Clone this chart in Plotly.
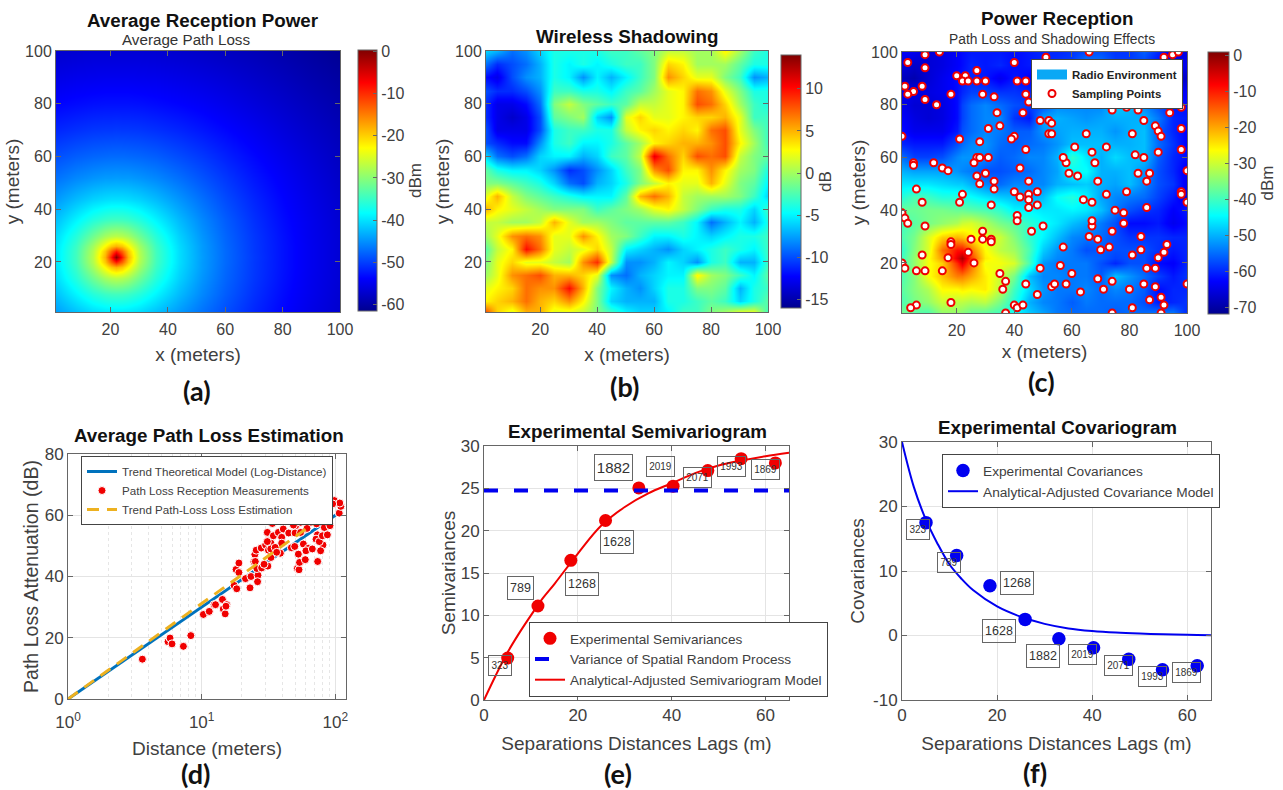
import plotly.graph_objects as go

W, H = 1283, 790

# ---------- Panel (a): average reception power, read on a coarse grid (dBm)
a_x = [1, 8, 14, 18, 20, 22, 24, 26, 30, 36, 44, 52, 60, 70, 80, 90, 100]
a_y = [1, 8, 14, 18, 20, 22, 24, 26, 30, 36, 44, 52, 60, 70, 80, 90, 100]
a_z = [
 [-44.2,-42.1,-40.5,-39.9,-39.7,-39.7,-39.7,-39.9,-40.5,-42.1,-44.5,-46.9,-49.1,-51.6,-53.7,-55.6,-57.2],
 [-42.1,-38.9,-36.2,-34.9,-34.5,-34.4,-34.5,-34.9,-36.2,-38.9,-42.5,-45.6,-48.2,-51.0,-53.3,-55.2,-57.0],
 [-40.5,-36.2,-31.6,-28.5,-27.5,-27.1,-27.5,-28.5,-31.6,-36.2,-41.1,-44.8,-47.7,-50.6,-53.0,-55.1,-56.8],
 [-39.9,-34.9,-28.5,-22.6,-19.5,-18.1,-19.5,-22.6,-28.5,-34.9,-40.5,-44.4,-47.5,-50.5,-52.9,-55.0,-56.8],
 [-39.7,-34.5,-27.5,-19.5,-13.5,-9.0,-13.5,-19.5,-27.5,-34.5,-40.3,-44.4,-47.4,-50.5,-52.9,-55.0,-56.8],
 [-39.7,-34.4,-27.1,-18.1,-9.0,0.0,-9.0,-18.1,-27.1,-34.4,-40.3,-44.3,-47.4,-50.4,-52.9,-55.0,-56.8],
 [-39.7,-34.5,-27.5,-19.5,-13.5,-9.0,-13.5,-19.5,-27.5,-34.5,-40.3,-44.4,-47.4,-50.5,-52.9,-55.0,-56.8],
 [-39.9,-34.9,-28.5,-22.6,-19.5,-18.1,-19.5,-22.6,-28.5,-34.9,-40.5,-44.4,-47.5,-50.5,-52.9,-55.0,-56.8],
 [-40.5,-36.2,-31.6,-28.5,-27.5,-27.1,-27.5,-28.5,-31.6,-36.2,-41.1,-44.8,-47.7,-50.6,-53.0,-55.1,-56.8],
 [-42.1,-38.9,-36.2,-34.9,-34.5,-34.4,-34.5,-34.9,-36.2,-38.9,-42.5,-45.6,-48.2,-51.0,-53.3,-55.2,-57.0],
 [-44.5,-42.5,-41.1,-40.5,-40.3,-40.3,-40.3,-40.5,-41.1,-42.5,-44.8,-47.1,-49.3,-51.7,-53.8,-55.6,-57.3],
 [-46.9,-45.6,-44.8,-44.4,-44.4,-44.3,-44.4,-44.4,-44.8,-45.6,-47.1,-48.8,-50.5,-52.6,-54.4,-56.1,-57.7],
 [-49.1,-48.2,-47.7,-47.5,-47.4,-47.4,-47.4,-47.5,-47.7,-48.2,-49.3,-50.5,-51.9,-53.6,-55.2,-56.7,-58.2],
 [-51.6,-51.0,-50.6,-50.5,-50.5,-50.4,-50.5,-50.5,-50.6,-51.0,-51.7,-52.6,-53.6,-54.9,-56.3,-57.6,-58.8],
 [-53.7,-53.3,-53.0,-52.9,-52.9,-52.9,-52.9,-52.9,-53.0,-53.3,-53.8,-54.4,-55.2,-56.3,-57.4,-58.5,-59.6],
 [-55.6,-55.2,-55.1,-55.0,-55.0,-55.0,-55.0,-55.0,-55.1,-55.2,-55.6,-56.1,-56.7,-57.6,-58.5,-59.5,-60.4],
 [-57.2,-57.0,-56.8,-56.8,-56.8,-56.8,-56.8,-56.8,-56.8,-57.0,-57.3,-57.7,-58.2,-58.8,-59.6,-60.4,-61.3],
]

# ---------- Panel (b): wireless shadowing, read on a 5 m grid (dB); rows run top to bottom
b_x = [1, 5, 10, 15, 20, 25, 30, 35, 40, 45, 50, 55, 60, 65, 70, 75, 80, 85, 90, 95, 100]
b_y = [100, 95, 90, 85, 80, 75, 70, 65, 60, 55, 50, 45, 40, 35, 30, 25, 20, 15, 10, 5, 1]
b_z = [
 [-6,-7,-9,-8,-6,-4,-4,-4,-4,-3,-3,-2,-1,1,1,0,0,3,0,-3,-4],
 [-9,-11,-10,-9,-7,-4,-5,-4,-5,-4,-3,-3,-1,4,3,0,0,0,-2,-4,-4],
 [-12,-13,-10,-8,-7,-4,-5,-8,-5,-7,-5,-3,-1,6,4,2,2,-1,-3,-8,-7],
 [-10,-11,-11,-10,-8,-3,-3,-4,-4,-5,-3,-2,0,2,3,7,6,2,-1,-4,-4],
 [-11,-13,-13,-12,-9,-1,1,-1,-2,-3,-2,1,1,2,3,8,7,4,0,-3,-4],
 [-11,-13,-14,-13,-10,-2,-1,0,-6,-8,2,4,2,2,3,4,4,5,2,-3,-3],
 [-10,-13,-13,-13,-10,-4,-3,-3,-4,-4,1,3,4,3,4,3,7,8,2,-1,-3],
 [-10,-11,-12,-12,-8,-4,-3,-5,-5,-4,-2,0,3,4,5,5,6,8,3,0,-3],
 [-6,-9,-10,-9,-6,-5,-5,-7,-6,-3,-2,1,11,7,4,8,7,8,1,-1,-2],
 [-2,-4,-5,-5,-6,-8,-11,-10,-8,-6,-3,-1,6,8,3,3,6,3,0,-1,-4],
 [-1,-1,-2,-3,-4,-6,-9,-10,-7,-6,-4,-1,1,3,2,2,5,2,-1,-2,-5],
 [2,5,1,-1,-2,-3,-4,-5,-5,-5,-2,5,7,5,1,0,0,0,-1,-3,-6],
 [5,3,2,1,0,-1,-1,-1,-3,-2,-1,0,2,3,1,-1,-3,-4,-4,-6,-3],
 [1,1,0,0,1,5,2,0,0,-1,-2,-2,-2,-2,-3,-5,-9,-7,-5,-7,-4],
 [0,2,6,7,6,2,2,6,3,0,-1,-3,-5,-5,-4,-5,-6,-5,-4,-4,-3],
 [-2,1,3,10,7,2,1,2,4,1,-5,-6,-7,-8,-6,-5,-4,-3,-4,-5,-3],
 [-1,2,4,2,2,1,0,6,9,1,-8,-8,-7,-5,-6,-8,-4,-3,-7,-7,-3],
 [0,2,6,7,8,5,5,4,2,-8,-9,-7,-6,-5,-5,3,0,-1,-3,-5,-2],
 [2,3,4,7,6,6,10,5,-1,-5,-7,-8,-6,-4,-4,-1,-1,-2,-7,-4,-3],
 [3,4,5,7,5,4,6,3,-1,-6,-7,-7,-7,-4,-4,-3,-2,-3,-6,-4,-2],
 [8,4,2,5,5,2,2,1,-1,-3,-5,-6,-6,-5,-3,-3,-1,0,2,2,-3],
]

# ---------- Panel (c): power reception (dBm); rows run top to bottom
c_x = [1, 5, 10, 15, 20, 22, 25, 30, 35, 40, 45, 50, 55, 60, 65, 70, 75, 80, 85, 90, 95, 100]
c_y = [100, 95, 90, 85, 80, 75, 70, 65, 60, 55, 50, 45, 40, 35, 30, 25, 22, 20, 15, 10, 5, 1]
c_z = [
 [-63,-64,-66,-65,-63,-62,-61,-61,-61,-62,-61,-60,-60,-59,-57,-57,-59,-59,-56,-60,-64,-65],
 [-65,-67,-66,-65,-63,-62,-60,-61,-60,-62,-61,-60,-59,-58,-53,-54,-58,-58,-58,-62,-64,-64],
 [-68,-69,-66,-64,-62,-61,-60,-61,-64,-61,-63,-62,-59,-57,-50,-51,-55,-55,-58,-61,-67,-67],
 [-64,-65,-65,-64,-62,-60,-58,-58,-59,-59,-60,-58,-57,-55,-53,-52,-49,-51,-55,-60,-63,-63],
 [-64,-66,-66,-65,-62,-58,-55,-53,-55,-57,-58,-57,-53,-53,-53,-53,-48,-49,-53,-57,-61,-62],
 [-63,-65,-66,-65,-62,-58,-55,-53,-53,-59,-61,-51,-50,-51,-52,-51,-50,-50,-50,-54,-60,-61],
 [-62,-64,-64,-64,-61,-57,-55,-53,-54,-56,-56,-52,-51,-50,-50,-50,-52,-50,-49,-56,-60,-63],
 [-60,-61,-61,-61,-57,-55,-53,-52,-55,-56,-55,-54,-52,-49,-49,-49,-50,-50,-49,-55,-59,-63],
 [-55,-58,-58,-57,-53,-52,-52,-53,-56,-55,-53,-53,-50,-41,-46,-50,-47,-49,-49,-56,-60,-62],
 [-50,-51,-51,-51,-52,-53,-54,-57,-57,-56,-55,-53,-51,-44,-44,-50,-50,-49,-52,-57,-60,-64],
 [-46,-46,-46,-47,-48,-48,-50,-53,-55,-53,-53,-53,-50,-49,-48,-50,-51,-49,-53,-57,-59,-64],
 [-42,-39,-40,-42,-42,-43,-44,-46,-48,-49,-51,-49,-44,-42,-45,-51,-53,-54,-55,-58,-61,-65],
 [-37,-37,-36,-36,-37,-37,-38,-39,-41,-45,-45,-46,-46,-45,-46,-49,-54,-57,-59,-60,-63,-61],
 [-40,-38,-36,-34,-32,-30,-29,-32,-36,-38,-41,-44,-46,-49,-51,-54,-57,-62,-62,-61,-64,-62],
 [-39,-36,-29,-23,-21,-22,-25,-29,-30,-35,-41,-45,-49,-53,-54,-55,-57,-59,-59,-59,-60,-60],
 [-41,-35,-29,-16,-9,-9,-16,-26,-31,-33,-39,-48,-52,-54,-57,-56,-57,-57,-57,-59,-61,-60],
 [-40,-34,-27,-19,-6,-2,-12,-25,-28,-31,-40,-50,-53,-54,-55,-56,-58,-57,-57,-61,-62,-60],
 [-40,-34,-27,-23,-11,-6,-15,-27,-27,-29,-39,-52,-54,-54,-54,-57,-60,-57,-57,-62,-63,-60],
 [-39,-35,-27,-22,-17,-17,-20,-25,-30,-36,-49,-53,-53,-54,-54,-56,-49,-52,-55,-58,-61,-59],
 [-38,-35,-32,-26,-26,-25,-26,-25,-31,-40,-47,-52,-54,-54,-53,-55,-53,-54,-56,-62,-60,-60],
 [-39,-36,-34,-30,-31,-31,-32,-31,-36,-42,-50,-53,-54,-56,-54,-55,-55,-55,-57,-61,-60,-59],
 [-36,-38,-39,-34,-34,-35,-37,-38,-40,-44,-48,-51,-54,-55,-55,-55,-56,-55,-55,-54,-54,-60],
]

samples_x = [1,3,9,14,2,9,8,5,3,9,13,18,20,23,27,22,24,27,30,29,33,40,41,44,44,45,51,34,43,35,31,49,52,53,52,53,
             40,39,21,28,44,27,28,31,26,12,5,5,15,17,27,30,33,28,42,45,6,33,22,21,8,32,1,2,3,9,40,42,45,45,45,48,48,
             41,41,50,46,29,29,25,32,32,18,18,24,8,17,26,1,2,6,9,15,35,37,36,18,6,4,37,40,41,43,44,48,49,56,60,53,54,
             58,63,69,71,74,74,80,81,85,87,89,91,92,91,100,81,84,86,89,90,92,93,84,74,73,70,69,66,67,67,57,78,78,75,86,
             67,64,72,79,69,62,59,58,57,61,67,68,72,65,74,79,83,85,89,90,91,81,82,85,90,98,83,87,86,100,98,98,100,98,94,
             98,91,66,92,95,97]
samples_y = [68,96,99,100,87,94,87,85,84,82,80,84,91,91,93,89,89,89,89,84,83,96,89,89,84,81,98,77,77,72,71,74,74,73,69,69,
             68,67,67,66,63,60,60,60,58,58,58,57,56,55,53,54,51,50,56,51,48,48,46,43,43,42,39,37,35,34,47,45,46,44,41,47,42,
             38,36,34,32,32,29,29,29,28,28,27,24,23,22,20,20,18,17,17,17,16,13,10,5,4,3,1,4,3,4,12,8,18,19,16,11,12,
             12,9,14,10,13,1,10,3,12,6,11,7,4,1,12,23,25,18,18,22,24,27,30,32,26,25,29,30,34,36,26,35,39,40,41,
             43,44,46,47,51,53,54,58,60,64,62,58,64,69,78,79,78,74,72,70,68,69,61,60,62,63,54,54,51,55,47,46,43,71,77,
             79,80,100,98,99,100]

# ---------- Panel (d)
trend_x = [1, 108]
trend_y = [0, 61]
estimate_x = [1, 84]
estimate_y = [0, 60]
meas_x = [3.6,5.6,5.8,6.0,7.3,8.3,10.3,11.4,12.4,12.7,14.3,14.5,15.4,15.0,15.2,17.5,18.3,18.1,19,19,21.3,23.4,23,25,24.6,
          26.4,26.2,25.9,25.2,28.1,25.6,27.9,30.1,31,31.3,29.3,31.6,33,33.8,34.4,32.9,31,33,35.5,37.5,39.7,40.8,38.8,36.4,
          39.7,44.8,46.9,49.7,50.5,50,52,53.5,54,52.9,52.3,55,55,57.7,59.6,62.8,60.3,61,63.9,65.3,61.4,70,67.3,73.8,72.4,
          73.5,71.7,80.9,77.6,75.9,80,86,82.8,87.2,91.2,68,81.3,92.3,98.4,107,110,108,95.5,60.6,48.6]
meas_y = [13,18.7,19.9,18,17.2,20.7,27.6,28.6,30.8,30.8,32.5,29.4,30.8,27.8,30.3,37.1,36,42.3,44.4,41.3,39.3,40,36.3,47.2,44.8,
          40.4,38.3,42.6,44.9,42.8,48.6,49.3,50.3,54.4,43.4,44,48.6,50.9,57.3,53.3,49,51.4,46.2,49.5,54.4,52.8,55.5,47.6,47.9,
          50.9,54.2,49.4,49.8,56.6,54.2,42.6,42.2,44.6,47.3,59.6,57.7,54.4,50.6,45.5,49.2,48.4,59.9,59.3,57.7,55.7,60.7,49,44.9,57.2,
          53.6,52.2,50.3,48.4,51.4,53.3,58.8,56,53.6,56.6,59.9,60.5,63.2,64.8,60.7,62.9,64,63.7,60.6,56.8]
log_minor_ticks = [2,3,4,5,6,7,8,9,20,30,40,50,60,70,80,90]

# ---------- Panels (e) and (f)
lags = [5.05, 11.5, 18.5, 25.9, 33, 40.3, 47.7, 54.8, 62.1]
semivar = [4.95, 11.1, 16.5, 21.2, 25.05, 25.25, 27.1, 28.5, 28.0]
covar = [17.5, 12.4, 7.7, 2.5, -0.5, -1.9, -3.7, -5.3, -4.7]
variance_x = [0, 65]
variance_y = [24.75, 24.75]
model_h = [0,2.5,5,7.5,10,12.5,15,20,25,30,35,40,45,50,55,60,65]
semi_model = [0,2.9,5.6,7.9,10,12,13.7,17.3,20.6,22.8,24.4,25.6,26.8,27.7,28.3,28.8,29.2]
cov_model = [30,23,18,14.2,11,8.8,7,4.5,2.9,1.8,1.1,0.7,0.45,0.3,0.2,0.1,0.05]
pair_labels = ["323","789","1268","1628","1882","2019","2071","1993","1869"]
e_label_x = [3.4,7.74,20.95,28.4,27.6,37.6,45.5,52.7,59.9]
e_label_y = [4.08,13.27,13.74,18.7,27.45,27.56,26.27,27.6,27.2]
e_label_font = [10,12.5,12.5,12.5,15,10,10,10,10]
e_label_w = [22,25,32,32,37,27,27,27,27]
e_label_h = [19,22,22,22,25,19,19,19,19]
f_label_x = [3.36,9.8,24.2,20.3,29.7,38.05,45.5,52.7,59.8]
f_label_y = [16.4,11.28,8.13,0.67,-3.16,-2.9,-4.66,-6.37,-5.75]
f_label_font = [10,10,12.5,12.5,12.5,10,10,10,10]
f_label_w = [22,22,32,32,32,27,27,27,27]
f_label_h = [19,19,22,22,22,19,19,19,19]

FONT = "Liberation Sans"
TXT = "#404040"
FRAME = "#666666"
GRID = "#e4e4e4"
JET = [[0,"rgb(0,0,143)"],[0.125,"rgb(0,0,255)"],[0.375,"rgb(0,255,255)"],
       [0.625,"rgb(255,255,0)"],[0.875,"rgb(255,0,0)"],[1,"rgb(128,0,0)"]]

def px(x0, x1):
    return [x0 / W, x1 / W]
def py(top, bottom):
    return [1 - bottom / H, 1 - top / H]

def cbar(left, right, top, bottom, title, vals):
    return dict(x=left / W, xanchor="left", xpad=0, y=1 - top / H, yanchor="top", ypad=0,
                len=(bottom - top) / H, lenmode="fraction", thickness=right - left, thicknessmode="pixels",
                outlinecolor=FRAME, outlinewidth=1, ticks="inside", ticklen=4, tickcolor=FRAME,
                tickmode="array", tickvals=vals, ticktext=[str(v) for v in vals],
                tickfont=dict(size=16, color=TXT, family=FONT),
                title=dict(text=title, side="right", font=dict(size=17, color=TXT, family=FONT)))

fig = go.Figure()
fig.add_trace(go.Heatmap(x=a_x, y=a_y, z=a_z, colorscale=JET, zmin=-61.6, zmax=0.4, zsmooth="best", xaxis="x", yaxis="y",
                         colorbar=cbar(358, 377, 50, 311, "dBm", [0,-10,-20,-30,-40,-50,-60])))
fig.add_trace(go.Heatmap(x=b_x, y=b_y[::-1], z=b_z[::-1], colorscale=JET, zmin=-16, zmax=14, zsmooth="best", xaxis="x2", yaxis="y2",
                         colorbar=cbar(781, 801, 55, 308, "dB", [10,5,0,-5,-10,-15])))
fig.add_trace(go.Heatmap(x=c_x, y=c_y[::-1], z=c_z[::-1], colorscale=JET, zmin=-71.7, zmax=1, zsmooth="best", xaxis="x3", yaxis="y3",
                         colorbar=cbar(1208, 1229, 52, 314, "dBm", [0,-10,-20,-30,-40,-50,-60,-70])))
fig.add_trace(go.Scatter(x=[None, None], y=[None, None], mode="lines", line=dict(color="#0aa8f5", width=14),
                         name="Radio Environment", showlegend=True, legend="legend4", xaxis="x3", yaxis="y3"))
fig.add_trace(go.Scatter(x=samples_x, y=samples_y, mode="markers", name="Sampling Points", legend="legend4",
                         marker=dict(size=7, color="white", line=dict(color="#ee0000", width=2)), xaxis="x3", yaxis="y3"))
# (d)
fig.add_trace(go.Scatter(x=trend_x, y=trend_y, mode="lines", name="Trend Theoretical Model (Log-Distance)",
                         line=dict(color="#0072BD", width=3), legend="legend", xaxis="x4", yaxis="y4"))
fig.add_trace(go.Scatter(x=meas_x, y=meas_y, mode="markers", name="Path Loss Reception Measurements",
                         marker=dict(size=8, color="#f00000", line=dict(color="white", width=1)), legend="legend", xaxis="x4", yaxis="y4"))
fig.add_trace(go.Scatter(x=estimate_x, y=estimate_y, mode="lines", name="Trend Path-Loss Loss Estimation",
                         line=dict(color="#EDB120", width=3, dash="12px,8px"), legend="legend", xaxis="x4", yaxis="y4"))
# (e)
fig.add_trace(go.Scatter(x=lags, y=semivar, mode="markers", name="Experimental Semivariances",
                         marker=dict(size=13, color="#f00000"), legend="legend2", xaxis="x5", yaxis="y5"))
fig.add_trace(go.Scatter(x=variance_x, y=variance_y, mode="lines", name="Variance of Spatial Random Process",
                         line=dict(color="#0000f0", width=4, dash="14px,16px"), legend="legend2", xaxis="x5", yaxis="y5"))
fig.add_trace(go.Scatter(x=model_h, y=semi_model, mode="lines", line_shape="spline", name="Analytical-Adjusted Semivariogram Model",
                         line=dict(color="#f00000", width=2), legend="legend2", xaxis="x5", yaxis="y5"))
# (f)
fig.add_trace(go.Scatter(x=lags, y=covar, mode="markers", name="Experimental Covariances",
                         marker=dict(size=13.5, color="#0000f0"), legend="legend3", xaxis="x6", yaxis="y6"))
fig.add_trace(go.Scatter(x=model_h, y=cov_model, mode="lines", line_shape="spline", name="Analytical-Adjusted Covariance Model",
                         line=dict(color="#0000f0", width=2), legend="legend3", xaxis="x6", yaxis="y6"))

def axis(dom, title, rng, vals, standoff, grid=False, **kw):
    d = dict(domain=dom, range=rng, tickmode="array", tickvals=vals, ticktext=kw.pop("ticktext", [str(v) for v in vals]),
             showline=True, linecolor=FRAME, linewidth=1, mirror="allticks",
             ticks="inside", ticklen=5, tickcolor=FRAME, showgrid=grid, gridcolor=GRID, zeroline=False,
             tickfont=dict(size=kw.pop("tsize", 16), color=TXT, family=FONT), automargin=False,
             title=dict(text=title, standoff=standoff, font=dict(size=kw.pop("fsize", 19), color=TXT, family=FONT)))
    d.update(kw)
    return d

t100 = [20, 40, 60, 80, 100]
layout = dict(
    width=W, height=H, autosize=False, margin=dict(l=0, r=0, t=0, b=0), paper_bgcolor="white", plot_bgcolor="white",
    font=dict(family=FONT, color=TXT),
    xaxis=axis(px(56, 340), "x (meters)", [1, 100], t100, 10, anchor="y", ticklabelstandoff=3),
    yaxis=axis(py(51, 312), "y (meters)", [1, 100], t100, 0, anchor="x"),
    xaxis2=axis(px(486, 768), "x (meters)", [1, 100], t100, 10, anchor="y2", ticklabelstandoff=3),
    yaxis2=axis(py(51, 312), "y (meters)", [1, 100], t100, 0, anchor="x2"),
    xaxis3=axis(px(902, 1187), "x (meters)", [1, 100], t100, 6, anchor="y3", ticklabelstandoff=3),
    yaxis3=axis(py(52, 313), "y (meters)", [1, 100], t100, 0, anchor="x3"),
    xaxis4=axis(px(68, 346), "Distance (meters)", [0, 2.08], [1, 10, 100], 10, grid=True, type="log",
                ticktext=["10<sup>0</sup>", "10<sup>1</sup>", "10<sup>2</sup>"], anchor="y4", tsize=17, fsize=19, ticklabelstandoff=8,
                minor=dict(tickmode="array", tickvals=log_minor_ticks, showgrid=True, griddash="dot", gridcolor="#e6e6e6", ticks="")),
    yaxis4=axis(py(454, 699), "Path Loss Attenuation (dB)", [0, 80], [0, 20, 40, 60, 80], 0, grid=True, anchor="x4", tsize=17, fsize=19.6),
    xaxis5=axis(px(484, 789), "Separations Distances Lags (m)", [0, 65], [0, 20, 40, 60], 12, grid=True, anchor="y5", tsize=17, fsize=19),
    yaxis5=axis(py(446, 700), "Semivariances", [0, 30], [0, 5, 10, 15, 20, 25, 30], 0, grid=True, anchor="x5", tsize=17, fsize=19),
    xaxis6=axis(px(902, 1211), "Separations Distances Lags (m)", [0, 65], [0, 20, 40, 60], 12, grid=True, anchor="y6", tsize=17, fsize=19),
    yaxis6=axis(py(442, 700), "Covariances", [-10, 30], [-10, 0, 10, 20, 30], 3, grid=True, anchor="x6", tsize=17, fsize=19),
    legend=dict(x=81 / W, xanchor="left", y=1 - 456 / H, yanchor="top", bgcolor="white", bordercolor="#444", borderwidth=1,
                font=dict(size=11.6, color=TXT, family=FONT), tracegroupgap=0),
    legend2=dict(x=529 / W, xanchor="left", y=1 - 622 / H, yanchor="top", bgcolor="white", bordercolor="#444", borderwidth=1,
                 font=dict(size=13.6, color=TXT, family=FONT)),
    legend3=dict(x=942 / W, xanchor="left", y=1 - 454 / H, yanchor="top", bgcolor="white", bordercolor="#444", borderwidth=1,
                 font=dict(size=13.7, color=TXT, family=FONT)),
    legend4=dict(x=1031 / W, xanchor="left", y=1 - 59 / H, yanchor="top", bgcolor="white", bordercolor="#444", borderwidth=1,
                 font=dict(size=11.4, color="#222222", family=FONT, weight="bold")),
)

ann = []
def label(text, x, y, size, bold=False, color="#111111", family=FONT):
    ann.append(dict(text=f"<b>{text}</b>" if bold else text, x=x / W, y=1 - y / H, xref="paper", yref="paper",
                    showarrow=False, xanchor="center", yanchor="middle", font=dict(size=size, color=color, family=family)))
label("Average Reception Power", 203, 20, 18.8, True)
label("Average Path Loss", 186, 39, 15.2, False, "#333333")
label("Wireless Shadowing", 627, 36, 18.8, True)
label("Power Reception", 1057, 18, 18.8, True)
label("Path Loss and Shadowing Effects", 1052, 39, 13.8, False, "#333333")
label("Average Path Loss Estimation", 209, 435, 18.8, True)
label("Experimental Semivariogram", 637, 431, 18.8, True)
label("Experimental Covariogram", 1057, 427, 18.8, True)
for t, x, y in [("(a)", 197, 390), ("(b)", 624, 387), ("(c)", 1041, 381), ("(d)", 196, 773), ("(e)", 618, 773), ("(f)", 1035, 772)]:
    label(t, x, y, 27, True, "#111111", "Lato")

def boxes(xs, ys, sizes, ws, hs, xa, ya):
    for t, x, y, s, w, h in zip(pair_labels, xs, ys, sizes, ws, hs):
        ann.append(dict(text=t, x=x, y=y, xref=xa, yref=ya, showarrow=False, xanchor="center", yanchor="middle",
                        width=w, height=h, align="center", valign="middle", borderpad=0, borderwidth=1, bordercolor="#666666",
                        font=dict(size=s, color="#333333", family=FONT)))
boxes(e_label_x, e_label_y, e_label_font, e_label_w, e_label_h, "x5", "y5")
boxes(f_label_x, f_label_y, f_label_font, f_label_w, f_label_h, "x6", "y6")
layout["annotations"] = ann

fig.update_layout(**layout)
fig.write_html("out.html", config=dict(displayModeBar=False), post_script="document.body.style.margin='0';")
